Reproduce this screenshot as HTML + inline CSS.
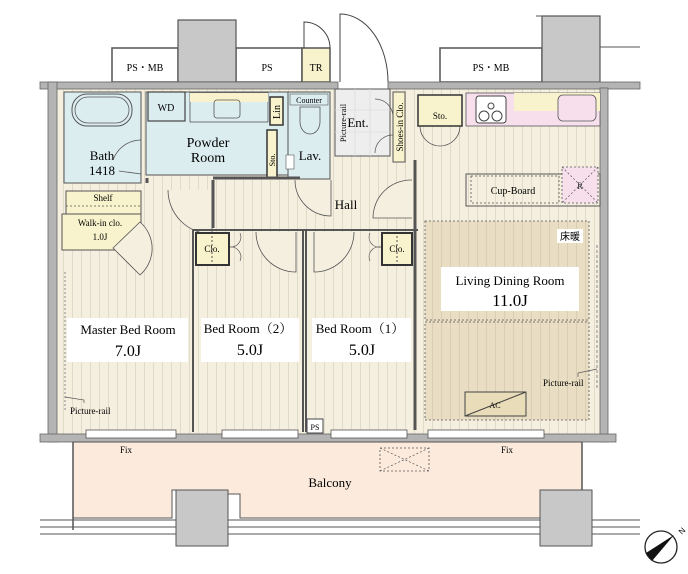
<!DOCTYPE html>
<html><head><meta charset="utf-8"><style>
html,body{margin:0;padding:0;background:#fff;}
svg{display:block;font-family:"Liberation Serif","Noto Serif CJK SC",serif;}
</style></head><body>
<svg width="688" height="574" viewBox="0 0 688 574" xmlns="http://www.w3.org/2000/svg">
<defs>
<pattern id="fl" width="9" height="10" patternUnits="userSpaceOnUse"><rect width="9" height="10" fill="#f4efdf"/><line x1="0.5" y1="0" x2="0.5" y2="10" stroke="#dcd5c2" stroke-width="0.8"/></pattern>
<pattern id="fl2" width="9" height="10" patternUnits="userSpaceOnUse"><rect width="9" height="10" fill="#e9dec3"/><line x1="0.5" y1="0" x2="0.5" y2="10" stroke="#d6cbae" stroke-width="0.8"/></pattern>
</defs>
<rect x="112" y="48" width="66" height="34" fill="#fff" stroke="#555" stroke-width="1.5"/>
<rect x="236" y="48" width="66" height="34" fill="#fff" stroke="#555" stroke-width="1.5"/>
<rect x="302" y="48" width="28" height="34" fill="#f8f3cc" stroke="#555" stroke-width="1.5"/>
<rect x="440" y="48" width="102" height="34" fill="#fff" stroke="#555" stroke-width="1.5"/>
<rect x="178" y="20" width="58" height="62" fill="#c8c8c8" stroke="#555" stroke-width="1.2"/>
<rect x="542" y="16" width="58" height="66" fill="#c8c8c8" stroke="#555" stroke-width="1.2"/>
<path d="M600 16 V47 H640 M536 16 H600" fill="none" stroke="#555" stroke-width="1"/>
<text x="145" y="71" font-size="10" text-anchor="middle">PS・MB</text>
<text x="267" y="71" font-size="10" text-anchor="middle">PS</text>
<text x="316" y="71" font-size="10" text-anchor="middle">TR</text>
<text x="491" y="71" font-size="10" text-anchor="middle">PS・MB</text>
<path d="M304 48 V22 A26 26 0 0 1 330 48" fill="none" stroke="#444" stroke-width="1"/>
<path d="M340 82 V14 A48 68 0 0 1 388 82" fill="none" stroke="#444" stroke-width="1"/>
<rect x="57" y="89" width="543" height="346" fill="url(#fl)"/>
<rect x="425" y="221" width="164" height="199" fill="url(#fl2)"/>
<rect x="40" y="82" width="298" height="7" fill="#b4b4b4" stroke="#666" stroke-width="0.8"/>
<rect x="388" y="82" width="252" height="7" fill="#b4b4b4" stroke="#666" stroke-width="0.8"/>
<rect x="48" y="82" width="9" height="360" fill="#b4b4b4" stroke="#666" stroke-width="0.8"/>
<rect x="600" y="88" width="8" height="354" fill="#b4b4b4" stroke="#666" stroke-width="0.8"/>
<rect x="40" y="434" width="576" height="8" fill="#b4b4b4" stroke="#666" stroke-width="0.8"/>
<g fill="#fff" stroke="#555" stroke-width="0.8">
<rect x="86" y="430" width="90" height="8"/><rect x="222" y="430" width="76" height="8"/><rect x="331" y="430" width="76" height="8"/><rect x="428" y="430" width="116" height="8"/>
</g>
<rect x="64" y="92" width="77" height="91" fill="#dcedf0" stroke="#555" stroke-width="1"/>
<rect x="72" y="94" width="60" height="32" rx="15" fill="none" stroke="#555" stroke-width="1"/>
<rect x="75" y="97" width="54" height="26" rx="13" fill="none" stroke="#555" stroke-width="0.8"/>
<text x="102" y="160" font-size="13" text-anchor="middle">Bath</text>
<text x="102" y="175" font-size="13" text-anchor="middle">1418</text>
<path d="M119 171 L141 174 M141 140 A30 30 0 0 0 113 160" fill="none" stroke="#555" stroke-width="0.8"/>
<rect x="146" y="92" width="143" height="83" fill="#dcedf0" stroke="#555" stroke-width="1"/>
<rect x="148" y="92" width="37" height="29" fill="#dcedf0" stroke="#444" stroke-width="1.2"/>
<text x="166" y="111" font-size="10" text-anchor="middle">WD</text>
<rect x="190" y="93" width="78" height="29" fill="#dcedf0" stroke="#555" stroke-width="0.8"/>
<rect x="190" y="93" width="78" height="9" fill="#f8f3cc"/>
<rect x="214" y="100" width="26" height="18" rx="3" fill="none" stroke="#555" stroke-width="0.8"/>
<rect x="270" y="97" width="13" height="28" fill="#f8f3cc" stroke="#333" stroke-width="1.5"/>
<text transform="translate(280 112) rotate(-90)" font-size="10" text-anchor="middle">Lin</text>
<rect x="267" y="130" width="10" height="48" fill="#f8f3cc" stroke="#333" stroke-width="1.5"/>
<text transform="translate(275 160) rotate(-90)" font-size="8" text-anchor="middle">Sto.</text>
<text x="208" y="147" font-size="14" text-anchor="middle">Powder</text>
<text x="208" y="162" font-size="14" text-anchor="middle">Room</text>
<rect x="288" y="92" width="42" height="87" fill="#dcedf0" stroke="#555" stroke-width="1"/>
<rect x="290" y="94" width="38" height="11" fill="#dcedf0" stroke="#555" stroke-width="0.6"/>
<text x="309" y="103" font-size="8" text-anchor="middle">Counter</text>
<path d="M300 107 H320 V122 A10 12 0 0 1 300 122 Z" fill="none" stroke="#555" stroke-width="0.8"/>
<text x="310" y="160" font-size="13" text-anchor="middle">Lav.</text>
<rect x="286" y="155" width="8" height="14" fill="#fff" stroke="#555" stroke-width="0.6"/>
<rect x="335" y="89" width="55" height="67" fill="#eeeeee" stroke="#555" stroke-width="1"/>
<path d="M355 89 V156 M370 89 V156 M335 110 H390 M335 132 H390" stroke="#ddd" stroke-width="0.8"/>
<text x="358" y="127" font-size="13" text-anchor="middle">Ent.</text>
<text transform="translate(346 123) rotate(-90)" font-size="8.5" text-anchor="middle">Picture-rail</text>
<path d="M375 99 A18 18 0 0 1 393 117 M375 153 A18 18 0 0 1 393 135" fill="none" stroke="#555" stroke-width="0.7"/>
<rect x="393" y="92" width="12" height="70" fill="#f8f3cc" stroke="#555" stroke-width="1"/>
<text transform="translate(403 127) rotate(-90)" font-size="9" text-anchor="middle">Shoes-in Clo.</text>
<rect x="418" y="95" width="44" height="31" fill="#f8f3cc" stroke="#333" stroke-width="1.5"/>
<text x="440" y="119" font-size="9" text-anchor="middle">Sto.</text>
<path d="M420 126 A20 20 0 0 0 440 146 M460 126 A20 20 0 0 1 440 146" fill="none" stroke="#555" stroke-width="0.8"/>
<rect x="466" y="93" width="134" height="33" fill="#f7e0ec" stroke="#555" stroke-width="0.8"/>
<rect x="514" y="93" width="86" height="18" fill="#f8f3cc"/>
<rect x="476" y="96" width="30" height="27" rx="3" fill="#fff" stroke="#444" stroke-width="1"/>
<circle cx="484" cy="116" r="5" fill="none" stroke="#444"/><circle cx="497" cy="116" r="5" fill="none" stroke="#444"/><circle cx="491" cy="106" r="3" fill="none" stroke="#444"/>
<rect x="558" y="95" width="38" height="26" rx="5" fill="#f7e0ec" stroke="#555" stroke-width="0.8"/>
<rect x="466" y="174" width="134" height="32" fill="none" stroke="#555" stroke-width="1"/>
<rect x="471" y="176" width="88" height="27" fill="none" stroke="#555" stroke-width="0.8" stroke-dasharray="2,2"/>
<text x="513" y="194" font-size="10" text-anchor="middle">Cup-Board</text>
<rect x="562" y="167" width="36" height="36" fill="#f7e0ec" stroke="#555" stroke-width="0.8" stroke-dasharray="2,2"/>
<path d="M562 167 L598 203 M598 167 L562 203" stroke="#555" stroke-width="0.7" stroke-dasharray="2,2"/>
<text x="580" y="189" font-size="9" text-anchor="middle" fill="#333">R</text>
<text x="346" y="209" font-size="13" text-anchor="middle">Hall</text>
<path d="M168 190 A44 44 0 0 0 212 234 V190" fill="#f4efdf" stroke="#555" stroke-width="0.8"/>
<path d="M295 180 A36 36 0 0 0 331 216 V180" fill="#f4efdf" stroke="#555" stroke-width="0.8"/>
<path d="M412 180 A38 38 0 0 0 373 218 H412" fill="#f4efdf" stroke="#555" stroke-width="0.8"/>
<path d="M213 178 H300 M147 178 V183" stroke="#555" stroke-width="3" fill="none"/>
<path d="M213 180 V228 M415 160 V430" stroke="#555" stroke-width="3" fill="none"/>
<rect x="66" y="191" width="75" height="23" fill="#f8f3cc" stroke="#555" stroke-width="1"/>
<line x1="66" y1="206" x2="141" y2="206" stroke="#555" stroke-dasharray="2,2" stroke-width="0.8"/>
<text x="103" y="201" font-size="9" text-anchor="middle">Shelf</text>
<rect x="62" y="214" width="79" height="36" fill="#f8f3cc" stroke="#555" stroke-width="1"/>
<text x="100" y="226" font-size="9" text-anchor="middle">Walk-in clo.</text>
<text x="100" y="240" font-size="9" text-anchor="middle">1.0J</text>
<path d="M113 248 L140 222 A35 35 0 0 1 140 275 Z" fill="#f4efdf" stroke="#555" stroke-width="0.8"/>
<path d="M193 229 V432 M303 229 V432 M306 229 V432 M193 230 H418" stroke="#555" stroke-width="2" fill="none"/>
<rect x="196" y="233" width="33" height="32" fill="#f8f3cc" stroke="#333" stroke-width="2"/>
<text x="212" y="252" font-size="9" text-anchor="middle">Clo.</text>
<line x1="212" y1="236" x2="212" y2="263" stroke="#555" stroke-dasharray="2,2"/>
<rect x="382" y="233" width="30" height="32" fill="#f8f3cc" stroke="#333" stroke-width="2"/>
<text x="397" y="252" font-size="9" text-anchor="middle">Clo.</text>
<line x1="397" y1="236" x2="397" y2="263" stroke="#555" stroke-dasharray="2,2"/>
<path d="M256 232 A40 40 0 0 0 296 272 V232" fill="#f4efdf" stroke="#555" stroke-width="0.8"/>
<path d="M354 232 A40 40 0 0 1 314 272 V232" fill="#f4efdf" stroke="#555" stroke-width="0.8"/>
<path d="M240 233 A10 10 0 0 1 230 247 A10 10 0 0 1 240 261 M370 233 A10 10 0 0 0 381 247 A10 10 0 0 0 370 261" fill="none" stroke="#555" stroke-width="0.7"/>
<rect x="67" y="318" width="121" height="44" fill="#fff"/>
<text x="128" y="334" font-size="13" text-anchor="middle">Master Bed Room</text>
<text x="128" y="356" font-size="16" text-anchor="middle">7.0J</text>
<rect x="201" y="318" width="98" height="44" fill="#fff"/>
<text x="248" y="333" font-size="13" text-anchor="middle">Bed Room（2）</text>
<text x="250" y="355" font-size="16" text-anchor="middle">5.0J</text>
<rect x="312" y="318" width="99" height="44" fill="#fff"/>
<text x="360" y="333" font-size="13" text-anchor="middle">Bed Room（1）</text>
<text x="362" y="355" font-size="16" text-anchor="middle">5.0J</text>
<line x1="65" y1="272" x2="65" y2="410" stroke="#888" stroke-dasharray="2,2"/>
<path d="M65 397 L84 400 V403" fill="none" stroke="#555" stroke-width="0.7"/>
<text x="70" y="414" font-size="9">Picture-rail</text>
<rect x="425" y="221" width="164" height="99" fill="none" stroke="#555" stroke-dasharray="2,2" stroke-width="0.8"/>
<rect x="425" y="322" width="164" height="98" fill="none" stroke="#555" stroke-dasharray="2,2" stroke-width="0.8"/>
<rect x="557" y="229" width="26" height="14" fill="#fff"/>
<text x="570" y="240" font-size="10" text-anchor="middle" font-family="'Noto Sans CJK JP',sans-serif">床暖</text>
<rect x="441" y="267" width="138" height="44" fill="#fff"/>
<text x="510" y="285" font-size="13" text-anchor="middle">Living Dining Room</text>
<text x="510" y="306" font-size="17" text-anchor="middle">11.0J</text>
<line x1="597" y1="245" x2="597" y2="390" stroke="#888" stroke-dasharray="3,2"/>
<path d="M578 377 V373 L597 369" fill="none" stroke="#555" stroke-width="0.7"/>
<text x="543" y="386" font-size="9">Picture-rail</text>
<rect x="465" y="392" width="61" height="24" fill="#e9dcb8" stroke="#444" stroke-width="1"/>
<line x1="465" y1="416" x2="526" y2="392" stroke="#444"/>
<text x="495" y="408" font-size="8" text-anchor="middle">AC</text>
<rect x="307" y="419" width="16" height="14" fill="#fff" stroke="#444" stroke-width="1"/>
<text x="315" y="430" font-size="8" text-anchor="middle">PS</text>
<path d="M73 442 H582 V494 H568 V508 H540 V518 H240 V494 H212 V490 H172 V518 H73 Z" fill="#fcebdd" stroke="#555" stroke-width="1"/>
<path d="M73 442 V530 M582 442 V508" stroke="#555" stroke-width="1.5" fill="none"/>
<text x="120" y="453" font-size="9">Fix</text>
<text x="501" y="453" font-size="9">Fix</text>
<rect x="380" y="448" width="49" height="23" fill="none" stroke="#555" stroke-dasharray="2,2" stroke-width="0.8"/>
<path d="M380 448 L429 471 M429 448 L380 471" stroke="#555" stroke-dasharray="2,2" stroke-width="0.7"/>
<text x="330" y="487" font-size="13" text-anchor="middle">Balcony</text>
<g stroke="#555" stroke-width="1">
<path d="M40 520 H176 M40 527 H176 M40 534 H176"/>
<path d="M228 520 H540 M228 527 H540 M228 534 H540"/>
<path d="M592 520 H640 M592 527 H640 M592 534 H640"/>
</g>
<rect x="176" y="490" width="52" height="56" fill="#c8c8c8" stroke="#555" stroke-width="1"/>
<rect x="540" y="490" width="52" height="56" fill="#c8c8c8" stroke="#555" stroke-width="1"/>
<circle cx="661" cy="547" r="16" fill="#fff" stroke="#222" stroke-width="1.3"/>
<path d="M646 553 L652 561 L674 535 Z" fill="#111"/>
<text x="679" y="536" font-size="8" font-family="Liberation Sans,sans-serif" transform="rotate(-45 679 532)">N</text>
</svg>
</body></html>
